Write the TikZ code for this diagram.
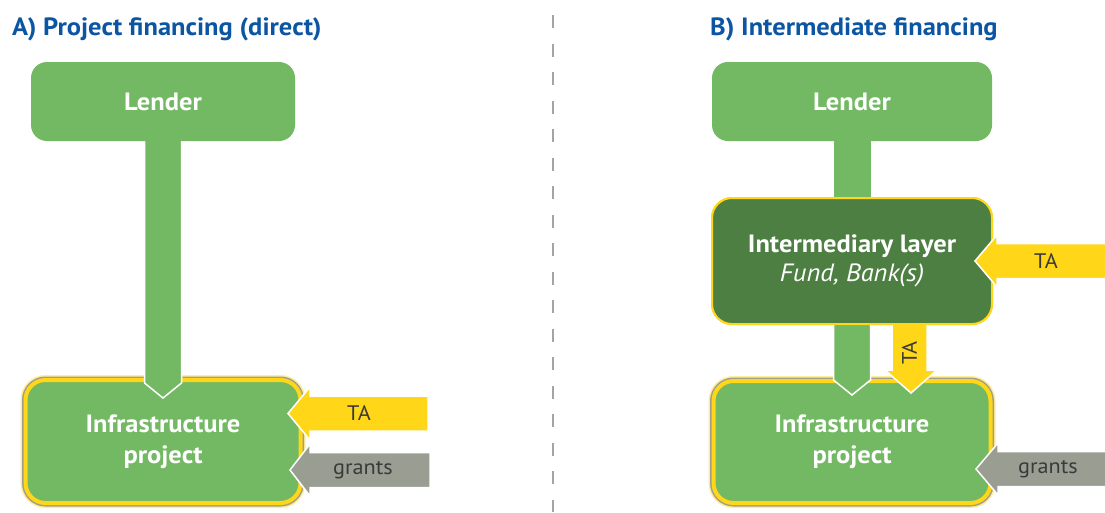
\documentclass[tikz,border=0pt]{standalone}
\usepackage{fontspec}
\setmainfont{PT Sans}[FakeStretch=1.06]
\usetikzlibrary{calc}
\definecolor{lgreen}{HTML}{73B964}
\definecolor{dgreen}{HTML}{4D7F42}
\definecolor{ayellow}{HTML}{FFD618}
\definecolor{agray}{HTML}{9A9D92}
\definecolor{bordgray}{HTML}{A09E8E}
\definecolor{titleblue}{HTML}{0B55A3}
\definecolor{darktext}{HTML}{3A3A3A}
\definecolor{dashgray}{HTML}{A5A5A0}
\begin{document}
\begin{tikzpicture}[x=1pt,y=-1pt,
  box/.style={rounded corners=16pt, fill=lgreen, text=white, inner sep=0pt, outer sep=0pt,
    font=\bfseries\fontsize{25}{31}\selectfont, align=center},
  interbox/.style={box, rounded corners=20pt, fill=dgreen, draw=ayellow, line width=2pt},
  infra/.style={box, rounded corners=20pt, draw=ayellow, line width=4pt,
    preaction={draw=ayellow!45, line width=10pt},
    preaction={draw=bordgray, line width=7pt}},
  title/.style={font=\bfseries\fontsize{25}{28}\selectfont, text=titleblue, inner sep=0pt, anchor=base west},
  stemarrow/.style={fill=lgreen, draw=white, line width=1.5pt, line join=miter},
  taarrow/.style={fill=ayellow, draw=white, line width=1.5pt, line join=miter},
  grantarrow/.style={fill=agray, draw=white, line width=1.5pt, line join=miter},
  lbl/.style={font=\fontsize{21}{26}\selectfont, text=darktext, inner sep=0pt},
  dashline/.style={draw=dashgray, line width=2pt, dash pattern=on 13pt off 15.5pt}
]
\useasboundingbox[fill=white] (0,0) rectangle (1105,512);

% separator
\coordinate (dtop) at (553,15);
\coordinate (dbot) at (553,512);
\draw[dashline] (dtop) -- (dbot);

% titles
\node[title] (titleA) at (12,35) {A) Project financing (direct)};
\node[title] (titleB) at (710,35) {B) Intermediate financing};

% ---------- A ----------
\node[infra, minimum width=275pt, minimum height=123pt] (infraA) at (163,441.5) {Infrastructure\\project};
\draw[stemarrow] ($(infraA.north)+(-18.5,-260)$) -- ($(infraA.north)+(18.5,-260)$)
  -- ($(infraA.north)+(18.5,3)$) -- ($(infraA.north)+(0,18)$) -- ($(infraA.north)+(-18.5,3)$) -- cycle;
\node[box, minimum width=264pt, minimum height=79pt] (lenderA) at (163,101.5) {Lender};

\draw[taarrow] ($(infraA.east)+(-12.5,-28)$) -- ($(infraA.east)+(9.5,-54.5)$) -- ($(infraA.east)+(9.5,-45.5)$)
  -- ($(infraA.east)+(127.5,-45.5)$) -- ($(infraA.east)+(127.5,-10.5)$) -- ($(infraA.east)+(9.5,-10.5)$)
  -- ($(infraA.east)+(9.5,-1.5)$) -- cycle;
\node[lbl] (taA) at ($(infraA.east)+(58.5,-28)$) {TA};

\draw[grantarrow] ($(infraA.east)+(-10.5,28.5)$) -- ($(infraA.east)+(9.5,2.5)$) -- ($(infraA.east)+(9.5,11)$)
  -- ($(infraA.east)+(129.5,11)$) -- ($(infraA.east)+(129.5,46)$) -- ($(infraA.east)+(9.5,46)$)
  -- ($(infraA.east)+(9.5,54.5)$) -- cycle;
\node[lbl] (grantsA) at ($(infraA.east)+(62.5,28.5)$) {grants};

% ---------- B ----------
\node[infra, minimum width=277pt, minimum height=122pt] (infraB) at (852,442) {Infrastructure\\project};
\node[interbox, minimum width=280pt, minimum height=126pt] (inter) at (852,261) {};
\fill[lgreen] ($(inter.north)+(-18.5,-70)$) rectangle ($(inter.north)+(18.5,11)$);
\draw[stemarrow] ($(inter.south)+(-18.5,-11)$) -- ($(inter.south)+(18.5,-11)$)
  -- ($(infraB.north)+(18.5,-1)$) -- ($(infraB.north)+(0,14)$) -- ($(infraB.north)+(-18.5,-1)$) -- cycle;
\draw[taarrow] ($(inter.south)+(40,-11)$) -- ($(inter.south)+(75,-11)$) -- ($(inter.south)+(75,46)$)
  -- ($(inter.south)+(85,46)$) -- ($(infraB.north)+(59,12)$) -- ($(inter.south)+(33,46)$)
  -- ($(inter.south)+(40,46)$) -- cycle;
\node[lbl, rotate=90] (taBdown) at ($(inter.south)+(57.5,29)$) {TA};
\node[interbox, minimum width=280pt, minimum height=126pt] (inter2) at (inter) {Intermediary layer\\[-2pt]{\mdseries\itshape Fund, Bank(s)}};
\node[box, minimum width=280pt, minimum height=79pt] (lenderB) at (852,101.5) {Lender};

\draw[taarrow] ($(inter.east)+(-17,0)$) -- ($(inter.east)+(5,-26)$) -- ($(inter.east)+(5,-17.5)$)
  -- ($(inter.east)+(125,-17.5)$) -- ($(inter.east)+(125,17.5)$) -- ($(inter.east)+(5,17.5)$)
  -- ($(inter.east)+(5,26)$) -- cycle;
\node[lbl] (taB) at ($(inter.east)+(54,0)$) {TA};

\draw[grantarrow] ($(infraB.east)+(-14.5,27)$) -- ($(infraB.east)+(7.5,1)$) -- ($(infraB.east)+(7.5,9.5)$)
  -- ($(infraB.east)+(125,9.5)$) -- ($(infraB.east)+(125,44.5)$) -- ($(infraB.east)+(7.5,44.5)$)
  -- ($(infraB.east)+(7.5,53)$) -- cycle;
\node[lbl] (grantsB) at ($(infraB.east)+(57.5,27)$) {grants};
\end{tikzpicture}
\end{document}
